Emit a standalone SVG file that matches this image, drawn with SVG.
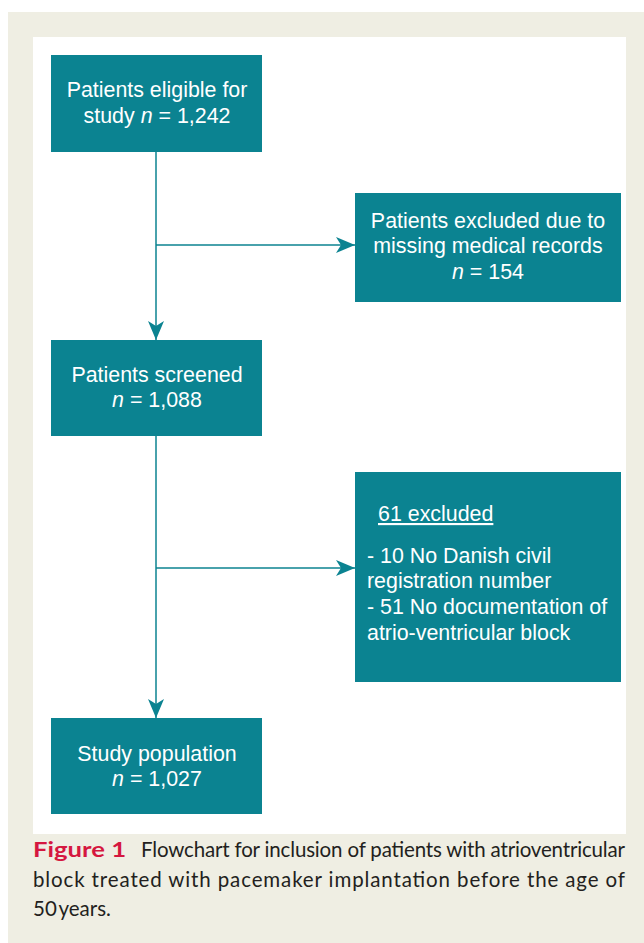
<svg xmlns="http://www.w3.org/2000/svg" width="644" height="943" viewBox="0 0 644 943">
<style>
.box{fill:#0b8391;}
.bt{font-family:"Liberation Sans",Arial,sans-serif;font-size:21.4px;fill:#ffffff;}
.bt tspan.i{font-style:italic;}
.conn{stroke:#0b8391;stroke-width:1.5;fill:none;}
.cap{font-family:Lato,"Open Sans",sans-serif;font-size:20.5px;fill:#231f20;}
.fig{font-family:Lato,"Open Sans",sans-serif;font-size:21px;font-weight:bold;fill:#d5173f;}
</style>
<defs>
<marker id="ah" markerUnits="userSpaceOnUse" markerWidth="20" markerHeight="16" refX="19" refY="8" orient="auto" viewBox="0 0 20 16">
<path d="M0,0 L19,8 L0,16 L5,8 Z" fill="#0b8391"/>
</marker>
</defs>
<rect x="8" y="12" width="636" height="931" fill="#efeee3"/>
<rect x="33" y="37" width="593" height="797" fill="#ffffff"/>
<g id="connectors">
<line class="conn" x1="156" y1="152" x2="156" y2="340" marker-end="url(#ah)"/>
<line class="conn" x1="156" y1="245" x2="355" y2="245" marker-end="url(#ah)"/>
<line class="conn" x1="156" y1="436" x2="156" y2="718" marker-end="url(#ah)"/>
<line class="conn" x1="156" y1="568" x2="355" y2="568" marker-end="url(#ah)"/>
</g>
<g id="eligible">
<rect class="box" x="51" y="55" width="211" height="97"/>
<text class="bt" x="157" y="97" text-anchor="middle">Patients eligible for</text>
<text class="bt" x="157" y="123" text-anchor="middle">study <tspan class="i">n</tspan> = 1,242</text>
</g>
<g id="excluded1">
<rect class="box" x="355" y="193" width="266" height="109"/>
<text class="bt" x="488" y="228" text-anchor="middle">Patients excluded due to</text>
<text class="bt" x="488" y="253" text-anchor="middle">missing medical records</text>
<text class="bt" x="488" y="279" text-anchor="middle"><tspan class="i">n</tspan> = 154</text>
</g>
<g id="screened">
<rect class="box" x="51" y="340" width="211" height="96"/>
<text class="bt" x="157" y="382" text-anchor="middle">Patients screened</text>
<text class="bt" x="157" y="407" text-anchor="middle"><tspan class="i">n</tspan> = 1,088</text>
</g>
<g id="excluded2">
<rect class="box" x="355" y="472" width="266" height="210"/>
<text class="bt" x="378" y="521" text-decoration="underline">61 excluded</text>
<text class="bt" x="367" y="563">- 10 No Danish civil</text>
<text class="bt" x="367" y="588">registration number</text>
<text class="bt" x="367" y="614">- 51 No documentation of</text>
<text class="bt" x="367" y="640">atrio-ventricular block</text>
</g>
<g id="population">
<rect class="box" x="51" y="718" width="211" height="96"/>
<text class="bt" x="157" y="761" text-anchor="middle">Study population</text>
<text class="bt" x="157" y="786" text-anchor="middle"><tspan class="i">n</tspan> = 1,027</text>
</g>
<g id="caption">
<text class="fig" x="33" y="857" textLength="93" lengthAdjust="spacingAndGlyphs">Figure 1</text>
<text class="cap" x="141" y="857" textLength="484" lengthAdjust="spacing">Flowchart for inclusion of patients with atrioventricular</text>
<text class="cap" x="33" y="887" textLength="592" lengthAdjust="spacing">block treated with pacemaker implantation before the age of</text>
<text class="cap" x="33" y="916" word-spacing="-3">50 years.</text>
</g>
</svg>
